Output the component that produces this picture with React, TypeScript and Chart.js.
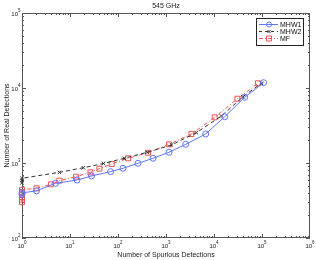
import React, { useEffect, useRef } from 'react';
import { Chart, registerables } from 'chart.js';

Chart.register(...registerables);

const titleText = '545 GHz';
const xTitle = 'Number of Spurious Detections';
const yTitle = 'Number of Real Detections';

const xTickValues = [1, 10, 100, 1e3, 1e4, 1e5, 1e6];
const xTickExps = ['0', '1', '2', '3', '4', '5', '6'];
const yTickValues = [100, 1e3, 1e4, 1e5];
const yTickExps = ['2', '3', '4', '5'];

const seriesNames = ['MHW1', 'MHW2', 'MF'];

const mhw1X = [1, 1, 2, 5, 14, 28, 70, 127, 261, 536, 1155, 2570, 6710, 16700, 43600, 108000];
const mhw1Y = [380, 400, 425, 536, 593, 671, 766, 850, 990, 1156, 1390, 1774, 2436, 4140, 7510, 11770];

const mhw2X = [1, 1, 1, 6, 19, 50, 135, 406, 1300, 4300, 14300, 40200, 97000];
const mhw2Y = [545, 585, 625, 751, 865, 985, 1156, 1390, 1738, 2537, 4236, 7650, 11560];

const mfX = [1, 1, 1, 1, 1, 1, 2, 4, 6, 13.3, 26.6, 41, 74, 162, 422, 1155, 3380, 10350, 30700, 82600];
const mfY = [300, 325, 350, 380, 410, 440, 460, 520, 581, 657, 751, 839, 970, 1156, 1370, 1774, 2436, 4062, 7200, 11560];

const BLUE = 'rgb(95,115,250)';
const BLACK = 'rgb(50,50,50)';
const RED = 'rgb(240,85,85)';
const FRAME = '#555';
const TEXT = '#222';
const FONT = '"Liberation Sans", Arial, sans-serif';

const toPts = (xs: number[], ys: number[]) => xs.map((x, i) => ({ x, y: ys[i] }));

function drawPow(ctx: CanvasRenderingContext2D, exp: string, x: number, y: number, align: 'center' | 'right') {
  ctx.font = `6px ${FONT}`;
  const wb = ctx.measureText('10').width;
  ctx.font = `4.5px ${FONT}`;
  const we = ctx.measureText(exp).width;
  const total = wb + we;
  const start = align === 'center' ? x - total / 2 : x - total;
  ctx.textAlign = 'left';
  ctx.textBaseline = 'alphabetic';
  ctx.font = `6px ${FONT}`;
  ctx.fillText('10', start, y);
  ctx.font = `4.5px ${FONT}`;
  ctx.fillText(exp, start + wb, y - 3.5);
}

const framePlugin = {
  id: 'frame',
  beforeDatasetsDraw(chart: any) {
    const { ctx, chartArea: a, scales } = chart;
    const xs = scales.x;
    const ys = scales.y;
    ctx.save();
    ctx.strokeStyle = FRAME;
    ctx.lineWidth = 1;
    ctx.strokeRect(a.left + 0.5, a.top + 0.5, a.right - a.left - 1, a.bottom - a.top - 1);
    ctx.beginPath();
    for (let d = 0; d < 6; d++) {
      for (let m = 1; m <= 9; m++) {
        const v = m * Math.pow(10, d);
        const px = Math.round(xs.getPixelForValue(v)) + 0.5;
        const len = m === 1 ? 4 : 2;
        ctx.moveTo(px, a.bottom);
        ctx.lineTo(px, a.bottom - len);
        ctx.moveTo(px, a.top);
        ctx.lineTo(px, a.top + len);
      }
    }
    for (let d = 2; d < 5; d++) {
      for (let m = 1; m <= 9; m++) {
        const v = m * Math.pow(10, d);
        const py = Math.round(ys.getPixelForValue(v)) + 0.5;
        const len = m === 1 ? 4 : 2;
        ctx.moveTo(a.left, py);
        ctx.lineTo(a.left + len, py);
        ctx.moveTo(a.right, py);
        ctx.lineTo(a.right - len, py);
      }
    }
    ctx.stroke();

    // tick labels
    ctx.fillStyle = TEXT;
    xTickValues.forEach((v, i) => {
      drawPow(ctx, xTickExps[i], xs.getPixelForValue(v), a.bottom + 9.5, 'center');
    });
    yTickValues.forEach((v, i) => {
      drawPow(ctx, yTickExps[i], a.left - 1.5, ys.getPixelForValue(v) + 2.5, 'right');
    });

    // titles
    ctx.font = `7px ${FONT}`;
    ctx.textAlign = 'center';
    ctx.textBaseline = 'alphabetic';
    ctx.fillText(titleText, (a.left + a.right) / 2, 8);
    ctx.fillText(xTitle, (a.left + a.right) / 2, a.bottom + 19);
    ctx.save();
    ctx.translate(9, (a.top + a.bottom) / 2);
    ctx.rotate(-Math.PI / 2);
    ctx.fillText(yTitle, 0, 0);
    ctx.restore();
    ctx.restore();
  },
};

const legendPlugin = {
  id: 'customLegend',
  afterDraw(chart: any) {
    const { ctx, chartArea: a } = chart;
    const bx = a.right - 54;
    const by = a.top + 5;
    const bw = 47;
    const bh = 27;
    ctx.save();
    ctx.fillStyle = '#fff';
    ctx.fillRect(bx, by, bw, bh);
    ctx.strokeStyle = '#222';
    ctx.lineWidth = 1;
    ctx.strokeRect(bx + 0.5, by + 0.5, bw, bh);
    const styles = [
      { c: BLUE, dash: [] as number[], m: 'circle' },
      { c: BLACK, dash: [3, 3], m: 'x' },
      { c: RED, dash: [4, 2, 1, 2], m: 'rect' },
    ];
    styles.forEach((s, i) => {
      const y = by + 6 + i * 7 + 0.5;
      ctx.strokeStyle = s.c;
      ctx.lineWidth = 1;
      ctx.setLineDash(s.dash);
      ctx.beginPath();
      ctx.moveTo(bx + 3, y);
      ctx.lineTo(bx + 22, y);
      ctx.stroke();
      ctx.setLineDash([]);
      const mx = bx + 13;
      ctx.beginPath();
      if (s.m === 'circle') {
        ctx.arc(mx, y, 2.5, 0, Math.PI * 2);
      } else if (s.m === 'x') {
        ctx.moveTo(mx - 1.5, y - 1.5);
        ctx.lineTo(mx + 1.5, y + 1.5);
        ctx.moveTo(mx + 1.5, y - 1.5);
        ctx.lineTo(mx - 1.5, y + 1.5);
      } else {
        ctx.rect(mx - 2.5, y - 2.5, 5, 5);
      }
      ctx.stroke();
      ctx.fillStyle = '#111';
      ctx.font = `7px ${FONT}`;
      ctx.textBaseline = 'middle';
      ctx.textAlign = 'left';
      ctx.fillText(seriesNames[i], bx + 24, y + 0.5);
    });
    ctx.restore();
  },
};

export default function App() {
  const ref = useRef<HTMLCanvasElement | null>(null);
  useEffect(() => {
    document.body.style.margin = '0';
    if (!ref.current) return;
    const chart = new Chart(ref.current, {
      type: 'line',
      data: {
        datasets: [
          {
            label: seriesNames[0],
            data: toPts(mhw1X, mhw1Y),
            borderColor: BLUE,
            backgroundColor: 'transparent',
            borderWidth: 1,
            pointStyle: 'circle',
            pointRadius: 3,
            pointBorderColor: BLUE,
            pointBackgroundColor: 'transparent',
            pointBorderWidth: 1,
            tension: 0,
            clip: false,
          },
          {
            label: seriesNames[1],
            data: toPts(mhw2X, mhw2Y),
            borderColor: BLACK,
            backgroundColor: 'transparent',
            borderWidth: 1,
            borderDash: [4, 3],
            pointStyle: 'crossRot',
            pointRadius: 2.5,
            pointBorderColor: BLACK,
            pointBorderWidth: 1,
            tension: 0,
            clip: false,
          },
          {
            label: seriesNames[2],
            data: toPts(mfX, mfY),
            borderColor: RED,
            backgroundColor: 'transparent',
            borderWidth: 1,
            borderDash: [4, 2, 1, 2],
            pointStyle: 'rect',
            pointRadius: 3.5,
            pointBorderColor: RED,
            pointBackgroundColor: 'transparent',
            pointBorderWidth: 1,
            tension: 0,
            clip: false,
          },
        ],
      },
      options: {
        animation: false,
        responsive: false,
        maintainAspectRatio: false,
        layout: { padding: { left: 22, right: 6, top: 13, bottom: 22 } },
        plugins: {
          legend: { display: false },
          tooltip: { enabled: false },
          title: { display: false },
        },
        scales: {
          x: { type: 'logarithmic', min: 1, max: 1e6, display: false },
          y: { type: 'logarithmic', min: 100, max: 1e5, display: false },
        },
      },
      plugins: [framePlugin, legendPlugin],
    } as any);
    return () => chart.destroy();
  }, []);
  return (
    <div style={{ width: 316, height: 260 }}>
      <canvas ref={ref} width={316} height={260} style={{ display: 'block', width: 316, height: 260 }} />
    </div>
  );
}
